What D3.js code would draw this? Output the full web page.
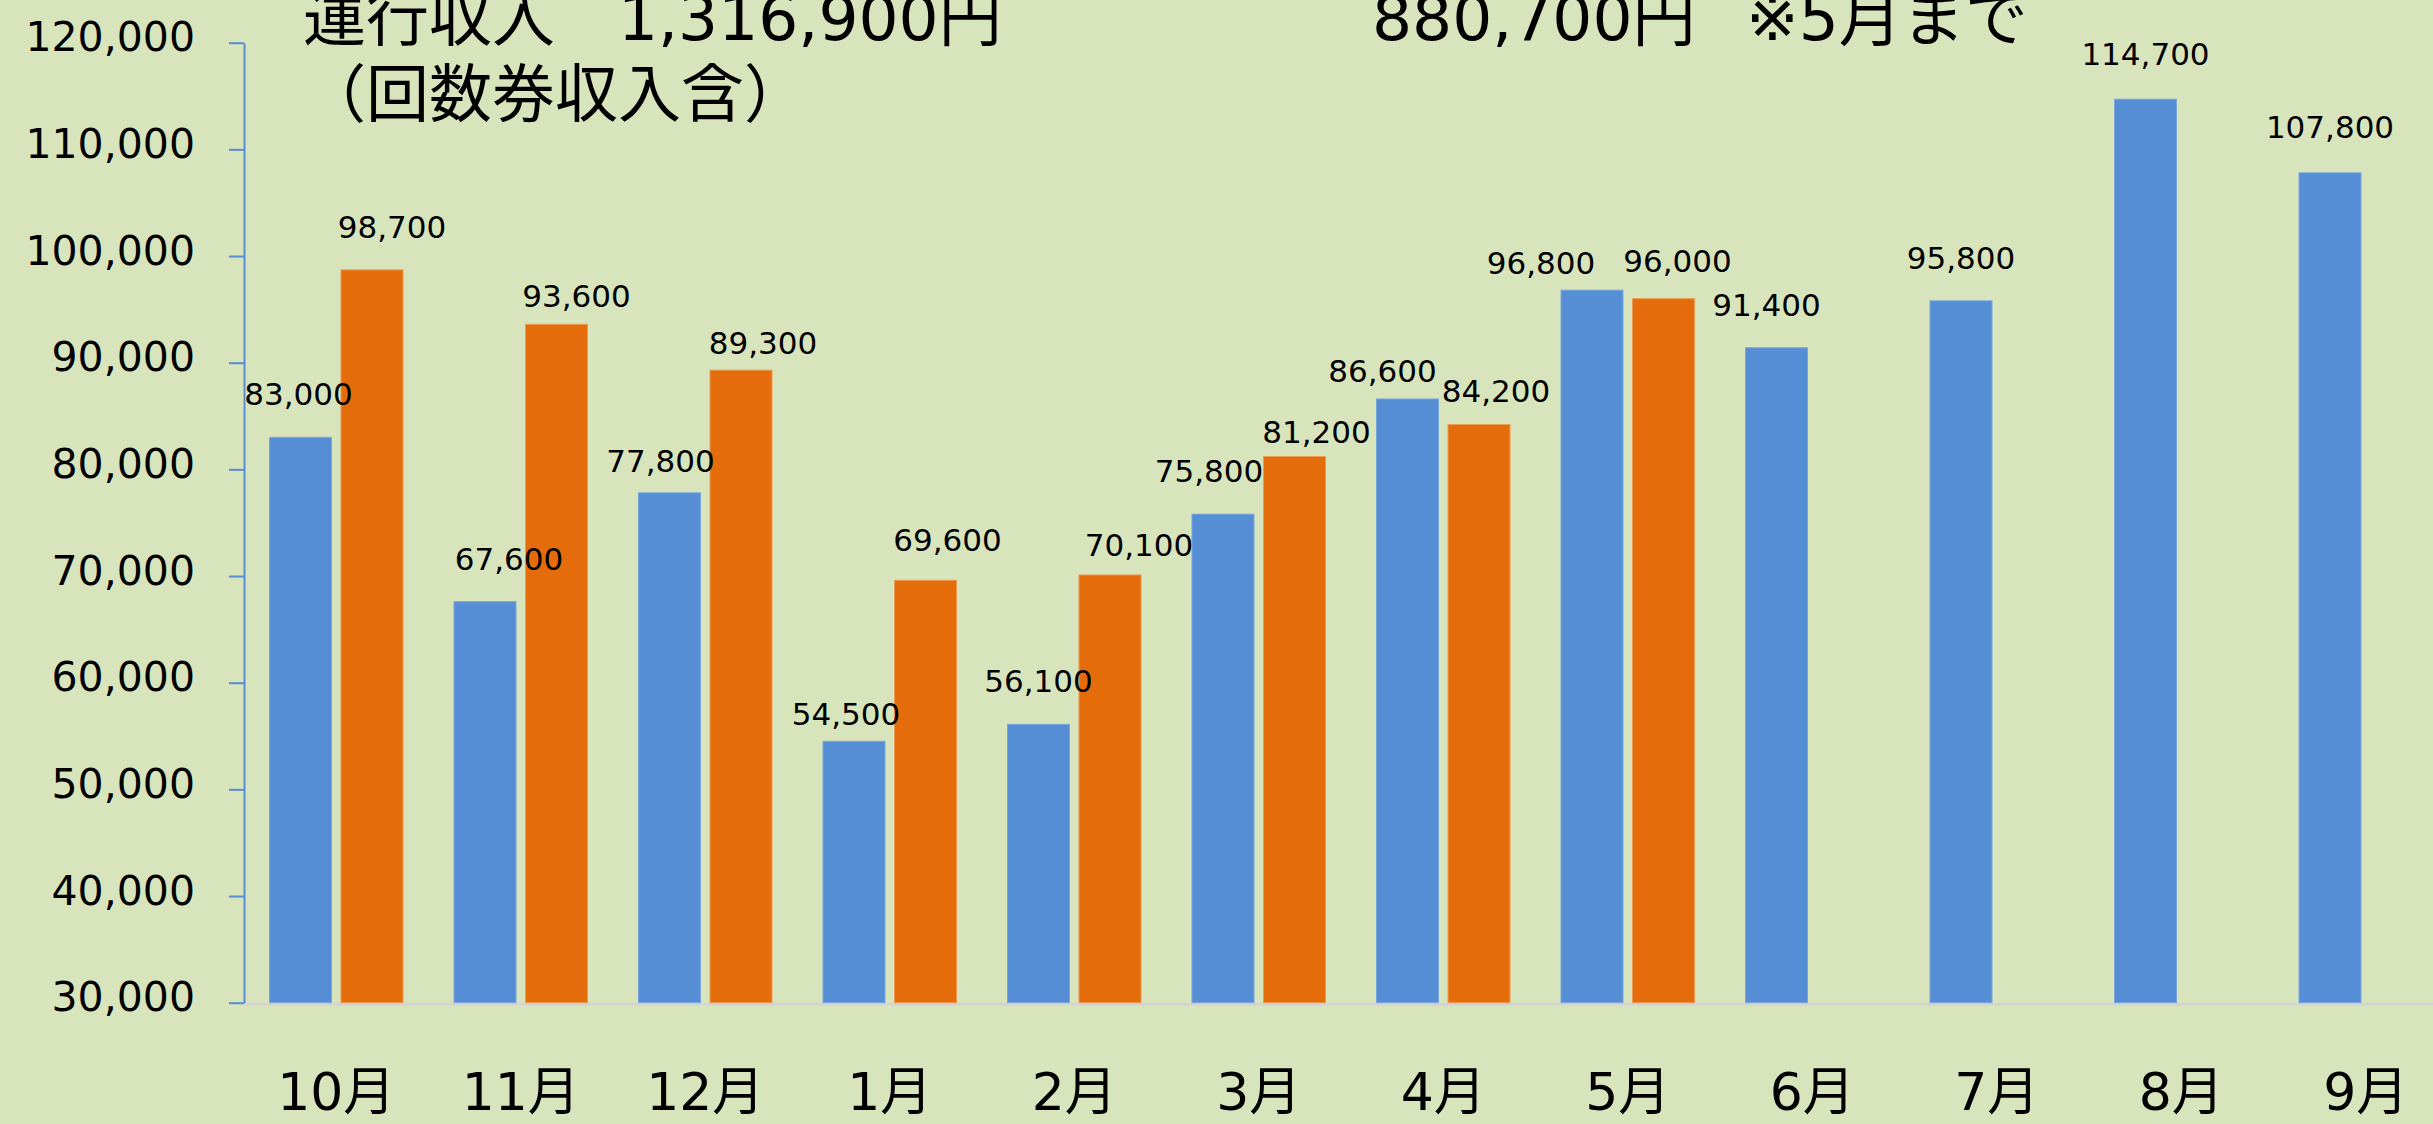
<!DOCTYPE html>
<html lang="ja">
<head>
    <meta charset="UTF-8">
    <title>運行収入</title>
    <script src="https://cdn.jsdelivr.net/npm/d3@7/dist/d3.min.js"></script>
</head>
<body>
<svg id='chart' width='2433' height='1124'></svg>
</body>
</html>
<script>
    // 月
    var months = ['10月', '11月', '12月', '1月', '2月', '3月', '4月', '5月', '6月', '7月', '8月', '9月']
    // 青い棒（通年）
    var blueValues = [83000, 67600, 77800, 54500, 56100, 75800, 86600, 96800, 91400, 95800, 114700, 107800]
    // オレンジの棒（5月まで）
    var orangeValues = [98700, 93600, 89300, 69600, 70100, 81200, 84200, 96000, null, null, null, null]
    // 縦軸の目盛り
    var yTicks = [30000, 40000, 50000, 60000, 70000, 80000, 90000, 100000, 110000, 120000]
    // タイトル
    var titleLeft = ['運行収入　1,316,900円', '（回数券収入含）']
    var titleRight = ['880,700円', '※5月まで']

    // データラベルの手動ずれ [dx, dy]（元の図で個別に動かされている分）
    var blueNudge = [[-2, 0], [24, 0], [-9, 11], [-8, 16], [0, 0], [-14, 0],
                     [-25, 15], [-51, 16], [-10, 0], [0, 0], [0, -2], [0, -3]]
    var orangeNudge = [[20, 0], [20, 15], [22, 16], [22, 3], [29, 13], [22, 18], [17, 9], [14, 5]]

    var width = 2433,
        height = 1124,
        left = 244,          // 縦軸の位置
        step = 184.5,        // 1か月分の幅（右端は画面外にはみ出す）
        labelGap = 32        // 棒の上端とラベルのベースラインの距離

    var blue = '#568ed6',
        orange = '#e46c0a',
        bg = '#d8e4bc'

    var svg = d3.select('#chart')
    svg.append('rect').attr('width', width).attr('height', height).style('fill', bg)

    var x = d3.scaleBand()
        .domain(months)
        .range([left, left + step * months.length])

    //  月の中での2本の棒の位置
    var sub = d3.scaleBand()
        .domain(['blue', 'orange'])
        .range([25.5, step - 25.5])
        .paddingInner(0.133)

    var y = d3.scaleLinear()
        .domain([30000, 120000])
        .range([1002.7, 42.7])

    var fmt = d3.format(',')

    // 横の基準線（灰色）
    svg.append('line')
        .attr('x1', left).attr('x2', width)
        .attr('y1', y(30000) + 1.5).attr('y2', y(30000) + 1.5)
        .style('stroke', '#d4d4d4')
        .style('stroke-width', 3)

    // 棒
    var blueBars = blueValues.map(function (v, i) { return {m: months[i], v: v, s: 'blue', n: blueNudge[i]} })
    var orangeBars = orangeValues.map(function (v, i) { return {m: months[i], v: v, s: 'orange', n: orangeNudge[i]} })
        .filter(function (d) { return d.v != null })
    var bars = blueBars.concat(orangeBars)

    svg.append('g').selectAll('rect')
        .data(bars)
        .enter().append('rect')
        .attr('x', function (d) { return x(d.m) + sub(d.s) })
        .attr('y', function (d) { return y(d.v) })
        .attr('width', sub.bandwidth())
        .attr('height', function (d) { return y(30000) - y(d.v) })
        .style('fill', function (d) { return d.s === 'blue' ? blue : orange })
        .style('stroke', function (d) { return d.s === 'blue' ? '#7aa6e0' : '#ec9a52' })
        .style('stroke-width', 1)

    // データラベル
    svg.append('g').selectAll('text')
        .data(bars)
        .enter().append('text')
        .attr('class', 'data-label')
        .attr('x', function (d) { return x(d.m) + sub(d.s) + sub.bandwidth() / 2 + d.n[0] })
        .attr('y', function (d) { return y(d.v) - labelGap + d.n[1] })
        .style('text-anchor', 'middle')
        .text(function (d) { return fmt(d.v) })

    // 縦軸
    var yAxis = svg.append('g')
        .attr('class', 'y-axis')
        .attr('transform', 'translate(' + left + ',0)')
        .call(d3.axisLeft(y).tickValues(yTicks).tickSize(15).tickSizeOuter(0).tickPadding(34).tickFormat(fmt))
    yAxis.select('.domain').style('stroke', blue).style('stroke-width', 2)
    yAxis.selectAll('.tick line').style('stroke', blue).style('stroke-width', 2)
    yAxis.selectAll('.tick text')
        .attr('dy', null)
        .attr('y', 8)
        .attr('class', 'tick-label')

    // 横軸の月ラベル
    var xAxis = svg.append('g')
        .attr('class', 'x-axis')
        .attr('transform', 'translate(0,1110)')
        .call(d3.axisBottom(x).tickSize(0).tickPadding(0))
    xAxis.select('.domain').remove()
    xAxis.selectAll('.tick text')
        .attr('dy', null)
        .attr('y', 0)
        .attr('class', 'month-label')

    // タイトル（元の図と同じく上端で切れている）
    svg.append('text').attr('class', 'title').attr('x', 303).attr('y', 40).text(titleLeft[0])
    svg.append('text').attr('class', 'title').attr('x', 303).attr('y', 116).text(titleLeft[1])
    svg.append('text').attr('class', 'title').attr('x', 1372).attr('y', 40).text(titleRight[0])
    svg.append('text').attr('class', 'title').attr('x', 1746).attr('y', 40).text(titleRight[1])
</script>
<style>
    body { margin: 0; }
    svg { display: block; }
    text { fill: #000; font-family: "DejaVu Sans", "Noto Sans CJK JP", sans-serif; }
    .data-label { font-size: 31px; }
    .tick-label { font-size: 41px; }
    .month-label { font-size: 52px; }
    .title { font-size: 63px; }
</style>
